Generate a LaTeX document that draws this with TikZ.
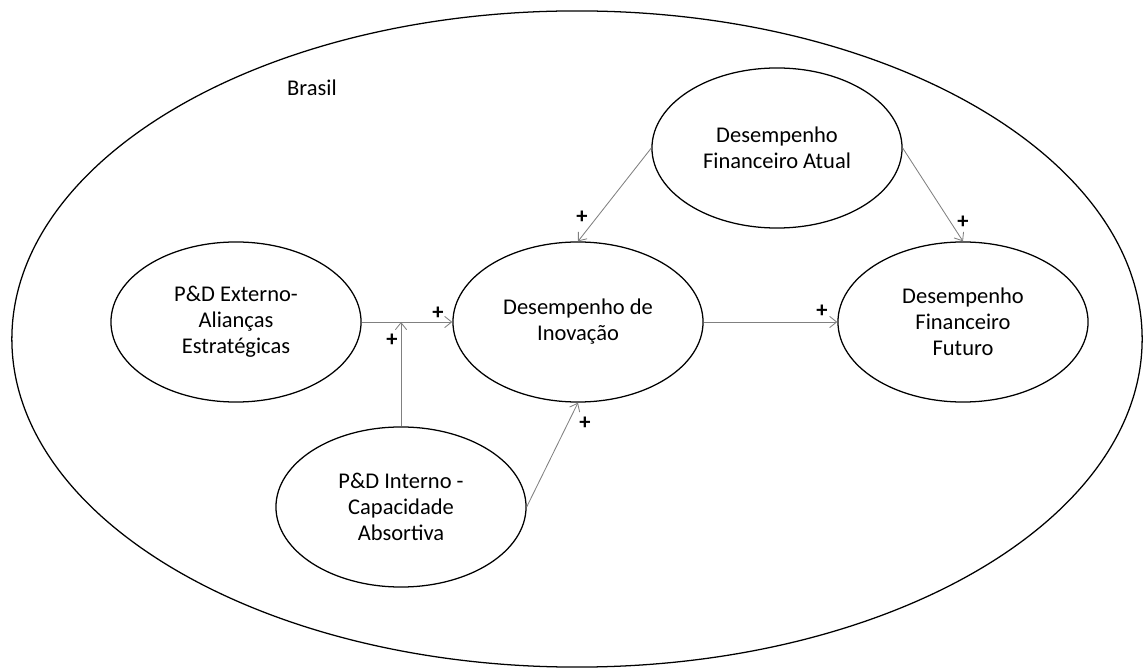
\documentclass[tikz,border=0pt]{standalone}
\usepackage{fontspec}
\setmainfont{Carlito}
\usetikzlibrary{shapes.geometric}
\usetikzlibrary{arrows.meta}
\usetikzlibrary{positioning}
\definecolor{arrow-gray}{RGB}{128, 128, 128}

\begin{document}
\begin{tikzpicture}[x=0.025cm, y=-0.025cm,
        construct/.style={ellipse, draw=black, line width=0.9pt, inner sep=0pt,
            minimum width=6.25cm, minimum height=4cm, align=center,
            font=\fontsize{16}{18.5}\selectfont},
        link/.style={draw=arrow-gray, line width=0.6pt,
            -{Straight Barb[length=5pt, width=8pt]}},
        sign/.style={font=\fontsize{16}{18}\selectfont\bfseries, inner sep=0pt}]
                \useasboundingbox (0, 0) rectangle (1146, 668);
                \draw[line width=0.9pt] (577, 339) ellipse [x radius=14.125cm, y radius=8.2cm];
                \node[font=\fontsize{16}{18}\selectfont] (brasil) at (312, 88) {Brasil};
                % constructs
                \node[construct] (ext) at (236, 322) {P\&D Externo-\\Alianças\\Estratégicas};
                \node[construct] (inov) at (578, 322) {Desempenho de\\Inovação};
                \node[construct] (atual) at (777, 148) {Desempenho\\Financeiro Atual};
                \node[construct] (fut) at (963, 322) {Desempenho\\Financeiro\\Futuro};
                \node[construct] (int) at (401, 507) {P\&D Interno -\\Capacidade\\Absortiva};
                % paths
                \coordinate (junc) at (int.north |- ext.east);
                \draw[link] (ext.east) -- (inov.west);
                \draw[link] (int.north) -- (junc);
                \draw[link] (int.east) -- (inov.south);
                \draw[link] (atual.west) -- (inov.north);
                \draw[link] (atual.east) -- (fut.north);
                \draw[link] (inov.east) -- (fut.west);
                % signs
                \node[sign] (s1) at (438, 313) {+};
                \node[sign] (s2) at (392, 340) {+};
                \node[sign] (s3) at (582, 217) {+};
                \node[sign] (s4) at (585, 423) {+};
                \node[sign] (s5) at (963, 222) {+};
                \node[sign] (s6) at (822, 311) {+};
            \end{tikzpicture}
\end{document}
